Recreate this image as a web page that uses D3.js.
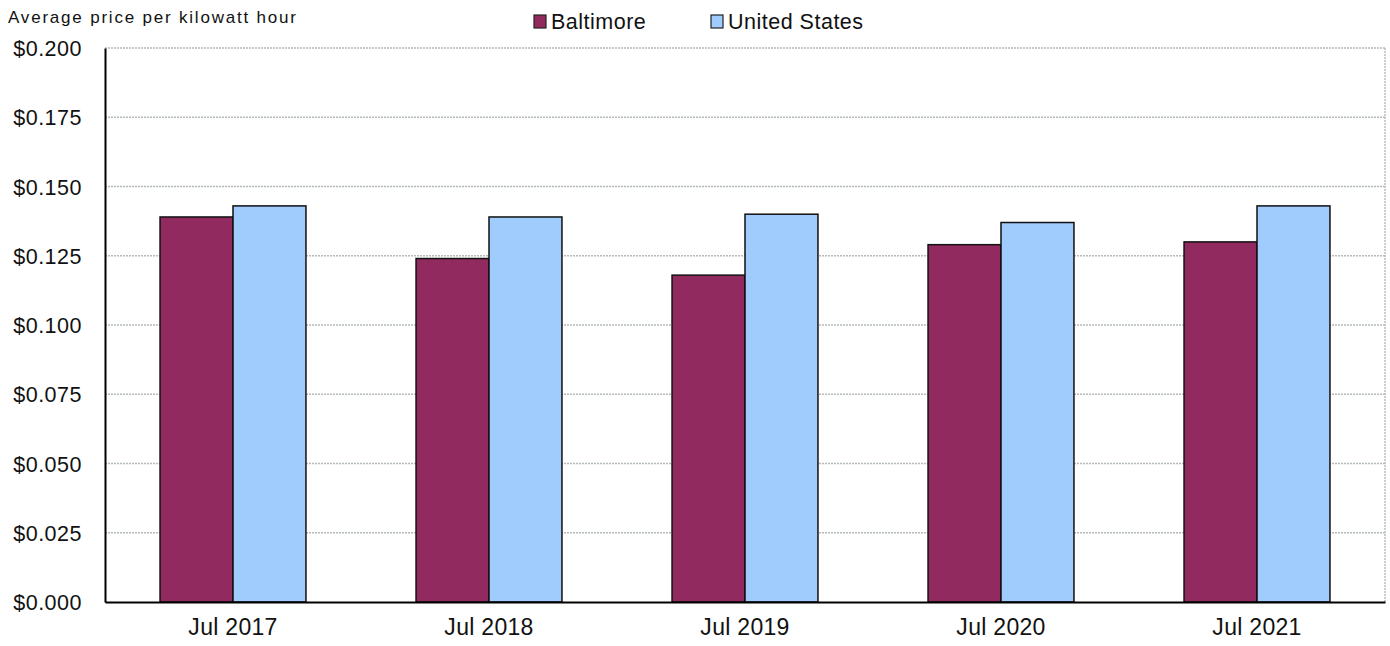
<!DOCTYPE html>
<html>
<head>
<meta charset="utf-8">
<script src="https://cdn.jsdelivr.net/npm/d3@7"></script>
<style>
  html, body { margin: 0; padding: 0; background: #fff; }
  svg { display: block; font-family: "Liberation Sans", Arial, sans-serif; }
</style>
</head>
<body>
<svg id="chart" width="1390" height="646"></svg>
<script>
// Average electricity price per kWh, July of each year
const categories = ["Jul 2017", "Jul 2018", "Jul 2019", "Jul 2020", "Jul 2021"];
const seriesNames = ["Baltimore", "United States"];
const baltimore = [0.139, 0.124, 0.118, 0.129, 0.130];
const unitedStates = [0.143, 0.139, 0.140, 0.137, 0.143];
const yTicks = [0, 0.025, 0.05, 0.075, 0.1, 0.125, 0.15, 0.175, 0.2];
const colors = ["#912b5f", "#9fcbfd"];

const svg = d3.select("#chart");
const margin = { top: 48, right: 5, bottom: 44, left: 105 };
const width = 1390 - margin.left - margin.right;
const height = 646 - margin.top - margin.bottom;

const g = svg.append("g").attr("transform", `translate(${margin.left},${margin.top})`);

const x0 = d3.scaleBand().domain(categories).range([0, width]).paddingInner(0.43).paddingOuter(0.215);
const x1 = d3.scaleBand().domain(seriesNames).range([0, x0.bandwidth()]).padding(0);
const y = d3.scaleLinear().domain([0, 0.2]).range([height, 0]);

// gridlines
g.append("g")
  .selectAll("line")
  .data(yTicks.filter(d => d > 0))
  .join("line")
  .attr("x1", 0).attr("x2", width)
  .attr("y1", d => y(d)).attr("y2", d => y(d))
  .attr("stroke", "#b3bcb3")
  .attr("stroke-width", 1.4)
  .attr("stroke-dasharray", "2,1");

// right border
g.append("line")
  .attr("x1", width).attr("x2", width)
  .attr("y1", 0).attr("y2", height)
  .attr("stroke", "#b3bcb3")
  .attr("stroke-width", 1.4)
  .attr("stroke-dasharray", "2,1");

// bars
const rows = categories.map((c, i) => ({ cat: c, values: [baltimore[i], unitedStates[i]] }));
const groups = g.append("g").selectAll("g")
  .data(rows)
  .join("g")
  .attr("transform", d => `translate(${x0(d.cat)},0)`);

groups.selectAll("rect")
  .data(d => d.values.map((v, j) => ({ name: seriesNames[j], value: v, j })))
  .join("rect")
  .attr("x", d => x1(d.name))
  .attr("y", d => y(d.value))
  .attr("width", x1.bandwidth())
  .attr("height", d => height - y(d.value))
  .attr("fill", d => colors[d.j])
  .attr("stroke", "#111")
  .attr("stroke-width", 1.5);

// y axis
const yAxis = g.append("g")
  .call(d3.axisLeft(y).tickValues(yTicks).tickFormat(d => "$" + d3.format(".3f")(d)).tickSize(0).tickPadding(23));
yAxis.select(".domain").attr("stroke", "#000").attr("stroke-width", 2);
yAxis.selectAll("text").attr("font-size", 21.5).attr("letter-spacing", 0.5).attr("fill", "#111").attr("dy", "0.35em");

// x axis
const xAxis = g.append("g")
  .attr("transform", `translate(0,${height})`)
  .call(d3.axisBottom(x0).tickSize(0).tickPadding(17));
xAxis.select(".domain").attr("stroke", "#000").attr("stroke-width", 2);
xAxis.selectAll("text").attr("font-size", 23).attr("letter-spacing", 0.3).attr("fill", "#111");

// axis title
svg.append("text")
  .attr("x", 8).attr("y", 23)
  .attr("font-size", 17)
  .attr("letter-spacing", 1.8)
  .attr("fill", "#111")
  .text("Average price per kilowatt hour");

// legend
const legendX = [534, 711];
const legend = svg.append("g").selectAll("g")
  .data(seriesNames)
  .join("g")
  .attr("transform", (d, i) => `translate(${legendX[i]},15)`);
legend.append("rect")
  .attr("width", 12).attr("height", 13)
  .attr("fill", (d, i) => colors[i])
  .attr("stroke", "#222").attr("stroke-width", 1.2);
legend.append("text")
  .attr("x", 17).attr("y", 14)
  .attr("font-size", 21.5)
  .attr("letter-spacing", 0.5)
  .attr("fill", "#111")
  .text(d => d);
</script>
</body>
</html>
